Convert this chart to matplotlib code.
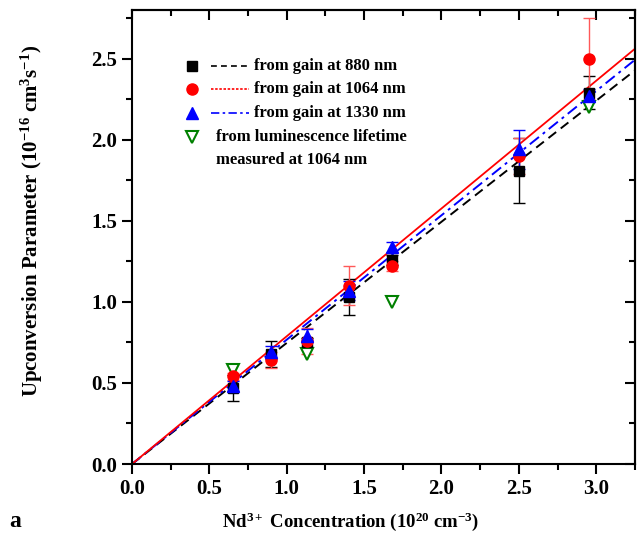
import numpy as np
import matplotlib
matplotlib.use("Agg")
import matplotlib.pyplot as plt
from matplotlib.ticker import MultipleLocator
from matplotlib.lines import Line2D

plt.rcParams['font.family'] = ['Liberation Serif', 'DejaVu Serif']
plt.rcParams['font.weight'] = 'bold'
plt.rcParams['axes.labelweight'] = 'bold'
plt.rcParams['mathtext.fontset'] = 'custom'
plt.rcParams['mathtext.rm'] = 'Liberation Serif:bold'
plt.rcParams['mathtext.it'] = 'Liberation Serif:bold'
plt.rcParams['mathtext.bf'] = 'Liberation Serif:bold'

# concentrations (1e20 cm^-3)
conc = [0.65, 0.90, 1.13, 1.40, 1.68, 2.50, 2.95]

# from gain at 880 nm
up_880 = [0.47, 0.68, 0.75, 1.03, 1.26, 1.81, 2.29]
err_880 = [0.08, 0.08, 0.03, 0.11, 0.03, 0.20, 0.10]

# from gain at 1064 nm
up_1064 = [0.54, 0.64, 0.76, 1.10, 1.22, 1.90, 2.50]
err_1064 = [0.02, 0.05, 0.08, 0.12, 0.03, 0.11, 0.25]

# from gain at 1330 nm
up_1330 = [0.48, 0.69, 0.79, 1.07, 1.34, 1.94, 2.27]
err_1330 = [0.03, 0.04, 0.04, 0.06, 0.03, 0.12, 0.04]

# from luminescence lifetime
conc_lum = [0.65, 1.13, 1.68, 2.95]
up_lum = [0.58, 0.68, 1.00, 2.20]

# fitted slopes of lines through origin
slope_880 = 0.747
slope_1064 = 0.788
slope_1330 = 0.767

xmax, ymax = 3.25, 2.8
fit_x = np.array([0.0, xmax])

fig = plt.figure(figsize=(6.42, 5.38), dpi=100)
ax = fig.add_axes([0.2056, 0.1375, 0.989 - 0.2056, 0.9814 - 0.1375])

ax.plot(fit_x, slope_880 * fit_x, color='black', ls=(0, (5, 3)), lw=1.4)
ax.plot(fit_x, slope_1330 * fit_x, color='blue', ls=(0, (6, 2.5, 1.5, 2.5)), lw=1.4)
ax.plot(fit_x, slope_1064 * fit_x, color='red', ls='-', lw=1.3)

ax.errorbar(conc, up_880, yerr=err_880, fmt='s', color='black', ms=7,
            capsize=4, elinewidth=1, capthick=1)
ax.errorbar(conc, up_1064, yerr=err_1064, fmt='o', color='red', ms=8,
            ecolor=(1, 0.35, 0.35), capsize=4, elinewidth=1, capthick=1)
ax.errorbar(conc, up_1330, yerr=err_1330, fmt='^', color='blue', ms=8,
            capsize=4, elinewidth=1, capthick=1)
ax.plot(conc_lum, up_lum, 'v', mfc='white', mec='green', mew=1.5, ms=8, ls='none')

ax.set_xlim(0, xmax)
ax.set_ylim(0, ymax)
ax.xaxis.set_major_locator(MultipleLocator(0.5))
ax.xaxis.set_minor_locator(MultipleLocator(0.25))
ax.yaxis.set_major_locator(MultipleLocator(0.5))
ax.yaxis.set_minor_locator(MultipleLocator(0.25))
ax.xaxis.set_major_formatter(plt.FormatStrFormatter('%.1f'))
ax.yaxis.set_major_formatter(plt.FormatStrFormatter('%.1f'))

for s in ax.spines.values():
    s.set_linewidth(1.5)
ax.tick_params(which='both', width=1.5, labelsize=15)
ax.tick_params(which='major', length=7)
ax.tick_params(which='minor', length=4)
ax.tick_params(which='both', top=False, right=False, direction='out')

# mirrored inward ticks on top and right
axt = ax.secondary_xaxis('top')
axt.xaxis.set_major_locator(MultipleLocator(0.5))
axt.xaxis.set_minor_locator(MultipleLocator(0.25))
axt.tick_params(which='both', direction='in', width=1.5, labeltop=False)
axt.tick_params(which='major', length=7)
axt.tick_params(which='minor', length=4)
axr = ax.secondary_yaxis('right')
axr.yaxis.set_major_locator(MultipleLocator(0.5))
axr.yaxis.set_minor_locator(MultipleLocator(0.25))
axr.tick_params(which='both', direction='in', width=1.5, labelright=False)
axr.tick_params(which='major', length=7)
axr.tick_params(which='minor', length=4)
for sec in (axt, axr):
    for s in sec.spines.values():
        s.set_linewidth(1.5)

ax.set_xlabel('Nd$^{3+}$ Concentration (10$^{20}$ cm$^{-3}$)', fontsize=13.5)
ax.set_ylabel('Upconversion Parameter (10$^{-16}$ cm$^{3}$s$^{-1}$)', fontsize=15)
ax.xaxis.set_label_coords(0.435, -0.103)
ax.yaxis.set_label_coords(-0.172, 0.535)
fig.text(0.014, 0.02, 'a', fontsize=17, fontweight='bold')

# Origin-style legend, drawn in axes coordinates
def px(x, y):
    return ((x - 132) / 503.0, (464 - y) / 454.0)

rows = [
    ('s', 'black', 'black', (0, (3.5, 2.5)), 'from gain at 880 nm', 65.5),
    ('o', 'red', 'red', (0, (1.5, 1)), 'from gain at 1064 nm', 89),
    ('^', 'blue', 'blue', (0, (5, 2, 1.5, 2)), 'from gain at 1330 nm', 112.5),
]
for mk, mc, lc, ls, lab, yy in rows:
    mx, my = px(192, yy)
    ax.add_line(Line2D([mx], [my], marker=mk, color=mc, ms=7 if mk == 's' else 8,
                       transform=ax.transAxes, ls='none'))
    x0, _ = px(211, yy)
    x1, _ = px(249, yy)
    ax.add_line(Line2D([x0, x1], [my, my], color=lc, ls=ls, lw=1.2, transform=ax.transAxes))
    tx, _ = px(254, yy)
    ax.text(tx, my, lab, transform=ax.transAxes, fontsize=12, va='center', ha='left')

mx, my = px(192, 137)
ax.add_line(Line2D([mx], [my], marker='v', mfc='white', mec='green', mew=1.5, ms=8,
                   transform=ax.transAxes, ls='none'))
tx, _ = px(216, 137)
ax.text(tx, my, 'from luminescence lifetime', transform=ax.transAxes, fontsize=12,
        va='center', ha='left')
_, my2 = px(216, 160)
ax.text(tx, my2, 'measured at 1064 nm', transform=ax.transAxes, fontsize=12,
        va='center', ha='left')

fig.savefig('out.png', dpi=100)
